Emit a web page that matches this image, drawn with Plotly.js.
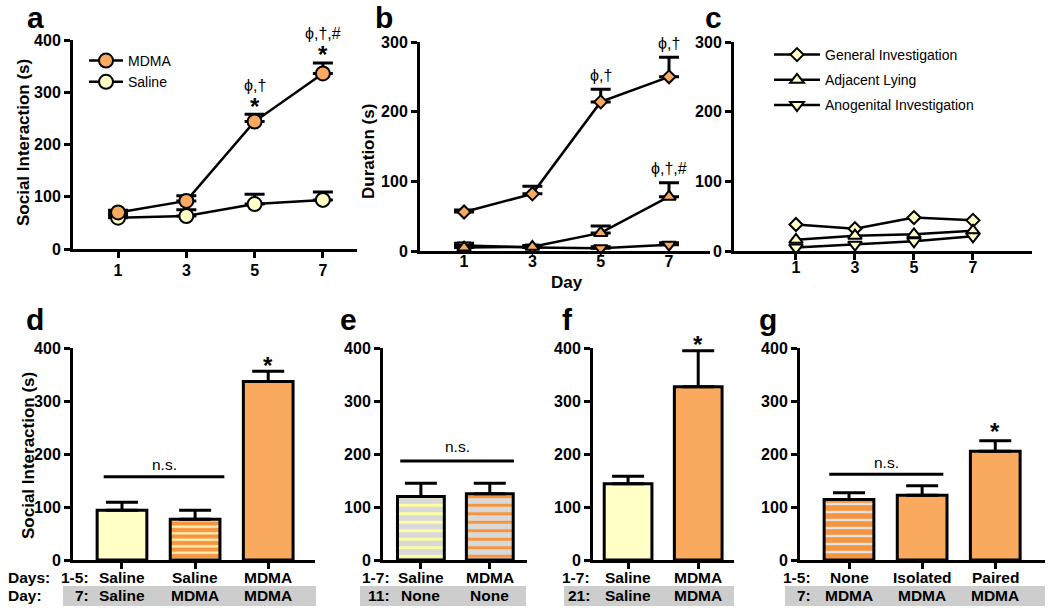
<!DOCTYPE html>
<html><head><meta charset="utf-8">
<script src="https://cdn.plot.ly/plotly-3.0.1.min.js"></script>
<style>body{margin:0;background:#fff}#chart{width:1050px;height:614px}</style>
</head><body><div id="chart"></div>
<script>
// ---------- data ----------
const days = [1, 3, 5, 7];
const aMDMA = [70, 92, 244, 336];
const aMDMAErr = [4, 10, 14, 20];
const aSaline = [60, 63, 86, 94];
const aSalineErr = [4, 12, 19, 15];
const aSigDays = [5, 7];
const aSigText = ['ϕ,†', 'ϕ,†,#'];

const bGeneral = [56, 82, 214, 250];
const bGeneralErr = [3, 11, 18, 28];
const bAdjacent = [5, 6, 26, 78];
const bAdjacentErr = [3, 2, 10, 20];
const bAnogenital = [8, 5, 4, 9];
const bAnogenitalErr = [3, 2, 2, 3];

const cGeneral = [38, 32, 48, 44];
const cAdjacent = [16, 22, 24, 29];
const cAnogenital = [5, 9, 14, 21];

const dValues = [94, 77, 337];
const dErr = [15, 17, 19];
const dRow1 = ['Saline', 'Saline', 'MDMA'];
const dRow2 = ['Saline', 'MDMA', 'MDMA'];

const eValues = [120, 125];
const eErr = [25, 20];
const eRow1 = ['Saline', 'MDMA'];
const eRow2 = ['None', 'None'];

const fValues = [144, 327];
const fErr = [14, 68];
const fRow1 = ['Saline', 'MDMA'];
const fRow2 = ['Saline', 'MDMA'];

const gValues = [114, 122, 205];
const gErr = [13, 18, 20];
const gRow1 = ['None', 'Isolated', 'Paired'];
const gRow2 = ['MDMA', 'MDMA', 'MDMA'];

// ---------- style ----------
const W = 1050, H = 614;
const FONT = 'Liberation Sans, Arial, sans-serif';
const ORANGE = '#F9AA5E';
const ORANGE_STRIPE = '#F7943F';
const YELLOW = '#FFFFC6';
const GRAY = '#D9D9D9';
const BAND = '#CDCDCD';
const px = x => x / W;
const py = y => 1 - y / H;
const idx = arr => arr.map((_, i) => i);

function yax(top, bottom, range, dtick) {
  return {
    domain: [py(bottom), py(top)], range: range, dtick: dtick, tick0: 0,
    showline: true, linewidth: 3, linecolor: '#000', ticks: 'outside', ticklen: 6,
    tickwidth: 3, tickcolor: '#000', showgrid: false, zeroline: false,
    tickfont: {family: FONT, size: 16, weight: 700, color: '#000'}, fixedrange: true
  };
}
function xax(left, right, range, anchor, tickvals, showLabels, ticklen, standoff) {
  return {
    domain: [px(left), px(right)], range: range, anchor: anchor,
    tickmode: 'array', tickvals: tickvals, showticklabels: showLabels,
    showline: true, linewidth: 3, linecolor: '#000', ticks: 'outside', ticklen: ticklen,
    tickwidth: 3, tickcolor: '#000', showgrid: false, zeroline: false,
    ticklabelstandoff: standoff,
    tickfont: {family: FONT, size: 16, weight: 700, color: '#000'}, fixedrange: true
  };
}
function errUp(arr, w) {
  return {type: 'data', symmetric: false, array: arr, arrayminus: arr.map(() => 0),
          color: '#000', thickness: 3, width: w};
}
function lineTrace(xa, ya, y, err, symbol, size, color, name, legend, showlegend) {
  const t = {
    type: 'scatter', mode: 'lines+markers', x: days, y: y, xaxis: xa, yaxis: ya,
    name: name, legend: legend, showlegend: showlegend, legendgroup: name + xa,
    cliponaxis: false,
    line: {color: '#000', width: 2.5},
    marker: {symbol: symbol, size: size, color: color, line: {color: '#000', width: 2}}
  };
  if (err) t.error_y = errUp(err, 10);
  return t;
}
// styles: list of [fillColor, stripeColor or null, stripe period, stripe solidity]
function barTraces(xa, ya, vals, err, styles) {
  return vals.map((v, i) => {
    const s = styles[i];
    return {
      type: 'bar', x: [i], y: [v], xaxis: xa, yaxis: ya, width: 0.68,
      showlegend: false, cliponaxis: false,
      marker: {
        color: s[0],
        line: {color: '#000', width: 3},
        pattern: s[1] ? {shape: '-', bgcolor: s[0], fgcolor: s[1], size: s[2], solidity: s[3], fillmode: 'replace'}
                      : {shape: ''}
      },
      error_y: errUp([err[i]], 16)
    };
  });
}

const traces = [
  // panel a
  lineTrace('x', 'y', aSaline, aSalineErr, 'circle', 14, YELLOW, 'Saline', 'legend', true),
  lineTrace('x', 'y', aMDMA, aMDMAErr, 'circle', 14, ORANGE, 'MDMA', 'legend', true),
  // panel b
  lineTrace('x2', 'y2', bAnogenital, bAnogenitalErr, 'triangle-down', 12, ORANGE, 'Anogenital Investigation', 'legend', false),
  lineTrace('x2', 'y2', bAdjacent, bAdjacentErr, 'triangle-up', 12, ORANGE, 'Adjacent Lying', 'legend', false),
  lineTrace('x2', 'y2', bGeneral, bGeneralErr, 'diamond', 10, ORANGE, 'General Investigation', 'legend', false),
  // panel c
  lineTrace('x3', 'y3', cGeneral, null, 'diamond', 10, YELLOW, 'General Investigation', 'legend2', true),
  lineTrace('x3', 'y3', cAdjacent, null, 'triangle-up', 12, YELLOW, 'Adjacent Lying', 'legend2', true),
  lineTrace('x3', 'y3', cAnogenital, null, 'triangle-down', 12, YELLOW, 'Anogenital Investigation', 'legend2', true),
  // panel d
  ...barTraces('x4', 'y4', dValues, dErr,
    [[YELLOW], [ORANGE_STRIPE, '#FFF6B8', 6.5, 0.35], [ORANGE]]),
  // panel e
  ...barTraces('x5', 'y5', eValues, eErr,
    [[GRAY, '#FFFF9E', 8.5, 0.33], [GRAY, ORANGE_STRIPE, 8.5, 0.35]]),
  // panel f
  ...barTraces('x6', 'y6', fValues, fErr, [[YELLOW], [ORANGE]]),
  // panel g
  ...barTraces('x7', 'y7', gValues, gErr,
    [[ORANGE_STRIPE, '#E4E4E4', 8, 0.3], [ORANGE], [ORANGE]])
];

// ---------- annotations ----------
const ann = [];
function txt(o) {
  ann.push(Object.assign({showarrow: false, font: {family: FONT, size: 16, color: '#000'}}, o));
}
const bold = (size) => ({family: FONT, size: size, color: '#000', weight: 700});
const reg = (size) => ({family: FONT, size: size, color: '#000'});

// panel letters
[['a', 35, 17], ['b', 384, 17], ['c', 713, 17], ['d', 35, 319], ['e', 348, 319], ['f', 567, 319], ['g', 768, 319]]
  .forEach(([t, x, y]) => txt({text: t, xref: 'paper', yref: 'paper', x: px(x), y: py(y),
    xanchor: 'center', yanchor: 'middle', font: bold(30)}));

// axis titles
txt({text: 'Social Interaction (s)', xref: 'paper', yref: 'paper', x: px(23), y: py(143), textangle: -90, xanchor: 'center', yanchor: 'middle', font: bold(17)});
txt({text: 'Duration (s)', xref: 'paper', yref: 'paper', x: px(368), y: py(152), textangle: -90, xanchor: 'center', yanchor: 'middle', font: bold(17)});
txt({text: 'Social Interaction (s)', xref: 'paper', yref: 'paper', x: px(28), y: py(456), textangle: -90, xanchor: 'center', yanchor: 'middle', font: bold(17)});
txt({text: 'Day', xref: 'paper', yref: 'paper', x: px(567), y: py(282), xanchor: 'center', yanchor: 'middle', font: bold(17)});

// significance marks panel a
aSigDays.forEach((d, k) => {
  const i = days.indexOf(d);
  const top = aMDMA[i] + aMDMAErr[i];
  txt({text: '*', xref: 'x', yref: 'y', x: d, y: top, yanchor: 'middle', yshift: 8, font: bold(24)});
  txt({text: aSigText[k], xref: 'x', yref: 'y', x: d, y: top, yanchor: 'middle', yshift: 29, font: reg(16)});
});
// panel b
[[5, 'ϕ,†', bGeneral, bGeneralErr], [7, 'ϕ,†', bGeneral, bGeneralErr], [7, 'ϕ,†,#', bAdjacent, bAdjacentErr]]
  .forEach(([d, t, v, e]) => {
    const i = days.indexOf(d);
    txt({text: t, xref: 'x2', yref: 'y2', x: d, y: v[i] + e[i], yanchor: 'middle', yshift: 14, font: reg(16)});
  });
// stars on bars
txt({text: '*', xref: 'x4', yref: 'y4', x: 2, y: dValues[2] + dErr[2], yanchor: 'middle', yshift: 6, font: bold(24)});
txt({text: '*', xref: 'x6', yref: 'y6', x: 1, y: fValues[1] + fErr[1], yanchor: 'middle', yshift: 6, font: bold(24)});
txt({text: '*', xref: 'x7', yref: 'y7', x: 2, y: gValues[2] + gErr[2], yanchor: 'middle', yshift: 9, font: bold(24)});

// n.s. brackets
const shapes = [];
function ns(xa, ya, x0, x1, yv, shift) {
  shapes.push({type: 'line', xref: xa, yref: ya, x0: x0, x1: x1, y0: yv, y1: yv, line: {color: '#000', width: 3}});
  txt({text: 'n.s.', xref: xa, yref: ya, x: (x0 + x1) / 2, y: yv, yanchor: 'middle', yshift: shift, font: reg(15.5)});
}
ns('x4', 'y4', -0.25, 1.40, 157, 12);
ns('x5', 'y5', -0.30, 1.35, 187, 14);
ns('x7', 'y7', -0.27, 1.29, 162, 12);

// bottom group label rows
const ROW1 = 577, ROW2 = 595;
function rows(xa, r1, r2, lab1, lab2, labX, bandX0, bandX1) {
  shapes.push({type: 'rect', xref: 'paper', yref: 'paper', x0: px(bandX0), x1: px(bandX1),
    y0: py(606), y1: py(586), fillcolor: BAND, line: {width: 0}, layer: 'below'});
  txt({text: lab1, xref: 'paper', yref: 'paper', x: px(labX), y: py(ROW1), xanchor: 'right', yanchor: 'middle', font: bold(15.5)});
  txt({text: lab2, xref: 'paper', yref: 'paper', x: px(labX), y: py(ROW2), xanchor: 'right', yanchor: 'middle', font: bold(15.5)});
  r1.forEach((t, i) => txt({text: t, xref: xa, yref: 'paper', x: i, y: py(ROW1), xanchor: 'center', yanchor: 'middle', font: bold(15.5)}));
  r2.forEach((t, i) => txt({text: t, xref: xa, yref: 'paper', x: i, y: py(ROW2), xanchor: 'center', yanchor: 'middle', font: bold(15.5)}));
}
rows('x4', dRow1, dRow2, '1-5:', '7:', 91, 63, 316);
rows('x5', eRow1, eRow2, '1-7:', '11:', 392, 360, 526);
rows('x6', fRow1, fRow2, '1-7:', '21:', 592, 564, 734);
rows('x7', gRow1, gRow2, '1-5:', '7:', 813, 785, 1045);
txt({text: 'Days:', xref: 'paper', yref: 'paper', x: px(6), y: py(ROW1), xanchor: 'left', yanchor: 'middle', font: bold(15.5)});
txt({text: 'Day:', xref: 'paper', yref: 'paper', x: px(6), y: py(ROW2), xanchor: 'left', yanchor: 'middle', font: bold(15.5)});

const layout = {
  width: W, height: H, margin: {l: 0, r: 0, t: 0, b: 0},
  paper_bgcolor: '#fff', plot_bgcolor: 'rgba(0,0,0,0)',
  font: {family: FONT, color: '#000'},
  barmode: 'overlay', bargap: 0,
  xaxis: xax(73, 357, [-0.32, 8.0], 'y', days, true, 6, -1),
  yaxis: Object.assign(yax(40, 249, [0, 400], 100), {anchor: 'x'}),
  xaxis2: xax(420, 710, [-0.29, 8.2], 'y2', days, true, 0, -6),
  yaxis2: Object.assign(yax(42, 251, [0, 300], 100), {anchor: 'x2'}),
  xaxis3: xax(734, 1032, [-1.1, 9.0], 'y3', days, true, 6, -6),
  yaxis3: Object.assign(yax(42, 251, [0, 300], 100), {anchor: 'x3'}),
  xaxis4: xax(73, 315, [-0.67, 2.64], 'y4', idx(dValues), false, 6, 0),
  yaxis4: Object.assign(yax(348, 560, [0, 400], 100), {anchor: 'x4'}),
  xaxis5: xax(383, 527, [-0.55, 1.54], 'y5', idx(eValues), false, 6, 0),
  yaxis5: Object.assign(yax(348, 560, [0, 400], 100), {anchor: 'x5'}),
  xaxis6: xax(593, 734, [-0.5, 1.51], 'y6', idx(fValues), false, 6, 0),
  yaxis6: Object.assign(yax(348, 560, [0, 400], 100), {anchor: 'x6'}),
  xaxis7: xax(800, 1045, [-0.67, 2.68], 'y7', idx(gValues), false, 6, 0),
  yaxis7: Object.assign(yax(348, 560, [0, 400], 100), {anchor: 'x7'}),
  legend: {x: px(84), y: py(45), xanchor: 'left', yanchor: 'top', bgcolor: 'rgba(0,0,0,0)',
           traceorder: 'reversed', font: {family: FONT, size: 14, color: '#000'}, itemwidth: 34, tracegroupgap: 0},
  legend2: {x: px(769), y: py(39), xanchor: 'left', yanchor: 'top', bgcolor: 'rgba(0,0,0,0)',
            traceorder: 'grouped', font: {family: FONT, size: 14, color: '#000'}, itemwidth: 46, tracegroupgap: 4},
  annotations: ann,
  shapes: shapes
};

Plotly.newPlot('chart', traces, layout, {staticPlot: true, displayModeBar: false});
</script>
</body></html>
